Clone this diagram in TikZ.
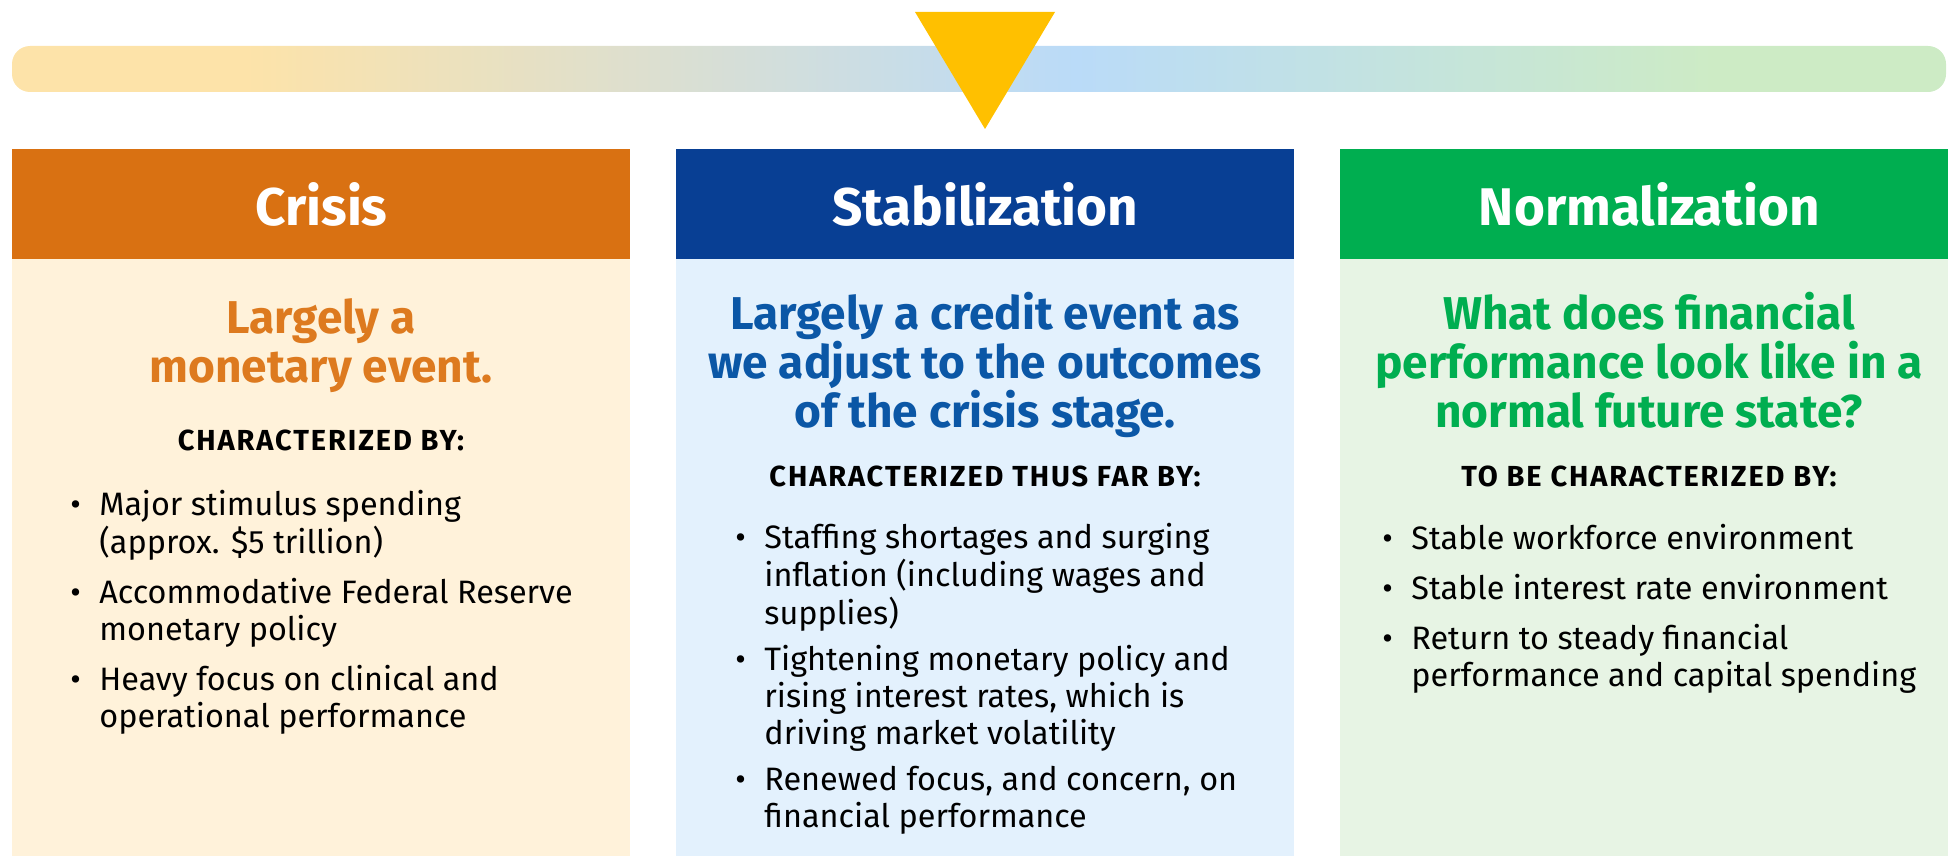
\documentclass[tikz,border=0pt]{standalone}
\usepackage{fontspec}
\setmainfont{Fira Sans}

\definecolor{crisisHead}{HTML}{D97112}
\definecolor{crisisBody}{HTML}{FFF2DA}
\definecolor{crisisText}{HTML}{DD7A1F}
\definecolor{stabHead}{HTML}{083F94}
\definecolor{stabBody}{HTML}{E3F1FD}
\definecolor{stabText}{HTML}{0B57A6}
\definecolor{normHead}{HTML}{00AE50}
\definecolor{normBody}{HTML}{E7F4E4}
\definecolor{normText}{HTML}{00AE50}
\definecolor{marker}{HTML}{FFC000}
\definecolor{barL}{HTML}{FDE3A9}
\definecolor{barM}{HTML}{BADBF8}
\definecolor{barR}{HTML}{CDEBC5}

% stops live in the 25bp--75bp window that \shade maps onto the path
\pgfdeclarehorizontalshading{barshade}{100bp}{color(0bp)=(barL); color(31bp)=(barL); color(52.5bp)=(barM); color(69bp)=(barR); color(100bp)=(barR)}

\tikzset{
  head/.style={anchor=north west, minimum width=309pt, minimum height=55pt, inner sep=0pt,
    text=white, font=\fontsize{26.5}{30}\selectfont\bfseries},
  lead/.style={anchor=base, align=center, inner sep=0pt, font=\fontsize{23}{24.5}\selectfont\bfseries},
  tag/.style={anchor=base, inner sep=0pt, font=\fontsize{14.5}{16}\selectfont\bfseries\addfontfeatures{LetterSpace=6.5}},
  blist/.style={anchor=base west, inner sep=0pt, font=\fontsize{16.2}{18.5}\selectfont}
}

\begin{document}
\begin{tikzpicture}[x=0.5pt,y=-0.5pt]
\useasboundingbox (0,0) rectangle (1948,856);
% timeline bar and marker
\shade[shading=barshade, rounded corners=9pt] (12,46) rectangle (1946,92);
\fill[marker] (915,12) -- (1055,12) -- (985,129) -- cycle;

% crisis
\fill[crisisBody] (12,259) rectangle (630,856);
\node[head, fill=crisisHead] (crisis) at (12,149) {Crisis};
\node[lead, text=crisisText] (crisisLead) at (321,382) {Largely a\\monetary event.};
\node[tag] (crisisTag) at (321,450) {CHARACTERIZED BY:};
\node[blist] (crisisList) at (70,515) {%
  \begin{tabular}[t]{@{}p{14.5pt}@{}l@{}}
  \textbullet & Major stimulus spending\\
              & (approx. \$5 trillion)\\[6.5pt]
  \textbullet & Accommodative Federal Reserve\\
              & monetary policy\\[6.5pt]
  \textbullet & Heavy focus on clinical and\\
              & operational performance
  \end{tabular}};

% stabilization
\fill[stabBody] (676,259) rectangle (1294,856);
\node[head, fill=stabHead] (stab) at (676,149) {Stabilization};
\node[lead, text=stabText] (stabLead) at (985,427) {Largely a credit event as\\we adjust to the outcomes\\of the crisis stage.};
\node[tag] (stabTag) at (985,486) {CHARACTERIZED THUS FAR BY:};
\node[blist] (stabList) at (735,548) {%
  \begin{tabular}[t]{@{}p{14.5pt}@{}l@{}}
  \textbullet & Staffing shortages and surging\\
              & inflation (including wages and\\
              & supplies)\\[4.5pt]
  \textbullet & Tightening monetary policy and\\
              & rising interest rates, which is\\
              & driving market volatility\\[4.5pt]
  \textbullet & Renewed focus, and concern, on\\
              & financial performance
  \end{tabular}};

% normalization
\fill[normBody] (1340,259) rectangle (1958,856);
\node[head, fill=normHead] (norm) at (1340,149) {Normalization};
\node[lead, text=normText] (normLead) at (1649,427) {What does financial\\performance look like in a\\normal future state?};
\node[tag] (normTag) at (1649,486) {TO BE CHARACTERIZED BY:};
\node[blist] (normList) at (1382,549) {%
  \begin{tabular}[t]{@{}p{14.5pt}@{}l@{}}
  \textbullet & Stable workforce environment\\[6.5pt]
  \textbullet & Stable interest rate environment\\[6.5pt]
  \textbullet & Return to steady financial\\
              & performance and capital spending
  \end{tabular}};
\end{tikzpicture}
\end{document}
